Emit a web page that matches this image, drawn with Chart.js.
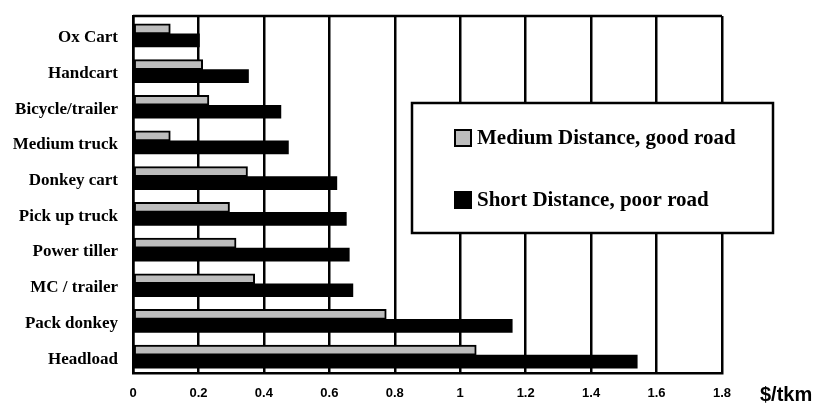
<!DOCTYPE html>
<html>
<head>
<meta charset="utf-8">
<script src="https://cdn.jsdelivr.net/npm/chart.js@4"></script>
<style>
    html, body { margin: 0; padding: 0; background: #fff; }
    #wrap { width: 818px; height: 406px; }
</style>
</head>
<body>
<div id="wrap"><canvas id="myChart" width="818" height="406"></canvas></div>
<script>
// 類別與數值 ($/tkm)
let categories = ['Ox Cart', 'Handcart', 'Bicycle/trailer', 'Medium truck', 'Donkey cart',
    'Pick up truck', 'Power tiller', 'MC / trailer', 'Pack donkey', 'Headload']
let mediumGoodRoad = [0.114, 0.213, 0.232, 0.114, 0.35, 0.295, 0.315, 0.372, 0.774, 1.049]
let shortPoorRoad = [0.203, 0.353, 0.452, 0.475, 0.623, 0.652, 0.661, 0.672, 1.159, 1.541]
let seriesNames = ['Medium Distance, good road', 'Short Distance, poor road']
let tickLabels = ['0', '0.2', '0.4', '0.6', '0.8', '1', '1.2', '1.4', '1.6', '1.8']
let unitLabel = '$/tkm'

const serif = "'Liberation Serif', 'Times New Roman', serif"
const sans = "'Liberation Sans', Arial, sans-serif"

// 外框上緣 + 自製圖例 + 單位
const framePlugin = {
    id: 'framePlugin',
    afterDatasetsDraw(chart){
        let ctx = chart.ctx
        let area = chart.chartArea
        ctx.save()
        ctx.strokeStyle = '#000'
        ctx.lineWidth = 2.5
        ctx.beginPath()
        ctx.moveTo(area.left, area.top)
        ctx.lineTo(area.right, area.top)
        ctx.stroke()

        // 圖例框
        let box = {x: 412, y: 103, w: 361, h: 130}
        ctx.fillStyle = '#fff'
        ctx.fillRect(box.x, box.y, box.w, box.h)
        ctx.strokeRect(box.x, box.y, box.w, box.h)

        let rows = [138, 200]
        chart.data.datasets.forEach((ds, i) => {
            let y = rows[i]
            ctx.fillStyle = ds.backgroundColor
            ctx.fillRect(455, y - 8, 16, 16)
            ctx.lineWidth = 2
            ctx.strokeRect(455, y - 8, 16, 16)
            ctx.fillStyle = '#000'
            ctx.font = `bold 21px ${serif}`
            ctx.textBaseline = 'middle'
            ctx.textAlign = 'left'
            ctx.fillText(ds.label, 477, y + 1)
        })

        // 單位
        ctx.font = `bold 20px ${sans}`
        ctx.textAlign = 'left'
        ctx.textBaseline = 'middle'
        ctx.fillText(unitLabel, 760, 395)
        ctx.restore()
    }
}

function newChart(){
    let canvasNew = document.querySelector('#myChart').getContext('2d')

    new Chart(canvasNew, {
        type: 'bar',
        data: {
            labels: categories,
            datasets: [
                {
                    label: seriesNames[0],
                    data: mediumGoodRoad,
                    backgroundColor: '#bdbdbd',
                    borderColor: '#000',
                    borderWidth: 2,
                    borderSkipped: false,
                    barThickness: 10,
                },
                {
                    label: seriesNames[1],
                    data: shortPoorRoad,
                    backgroundColor: '#000',
                    borderColor: '#000',
                    borderWidth: 0,
                    barThickness: 13,
                }
            ]
        },
        options: {
            indexAxis: 'y',
            responsive: false,
            animation: false,
            layout: {
                padding: {top: 16, right: 96, bottom: 0, left: 0}
            },
            scales: {
                x: {
                    min: 0,
                    max: 1.8,
                    ticks: {
                        stepSize: 0.2,
                        padding: 13,
                        color: '#000',
                        font: {family: sans, size: 13, weight: 'bold'},
                        callback: (v, i) => tickLabels[i],
                    },
                    grid: {
                        color: '#000',
                        lineWidth: 2.5,
                        drawTicks: false,
                    },
                    border: {display: true, color: '#000', width: 2.5},
                    afterFit: (scale) => { scale.height = 33 },
                },
                y: {
                    ticks: {
                        padding: 15,
                        labelOffset: 4,
                        color: '#000',
                        font: {family: serif, size: 17, weight: 'bold'},
                    },
                    grid: {display: false, drawTicks: false},
                    border: {display: true, color: '#000', width: 2.5},
                    afterFit: (scale) => {
                        scale.width = 133
                        scale.paddingTop = 0
                        scale.paddingBottom = 0
                    },
                }
            },
            plugins: {
                legend: {display: false},
                tooltip: {enabled: false},
            }
        },
        plugins: [framePlugin]
    })
}

newChart()
</script>
</body>
</html>
